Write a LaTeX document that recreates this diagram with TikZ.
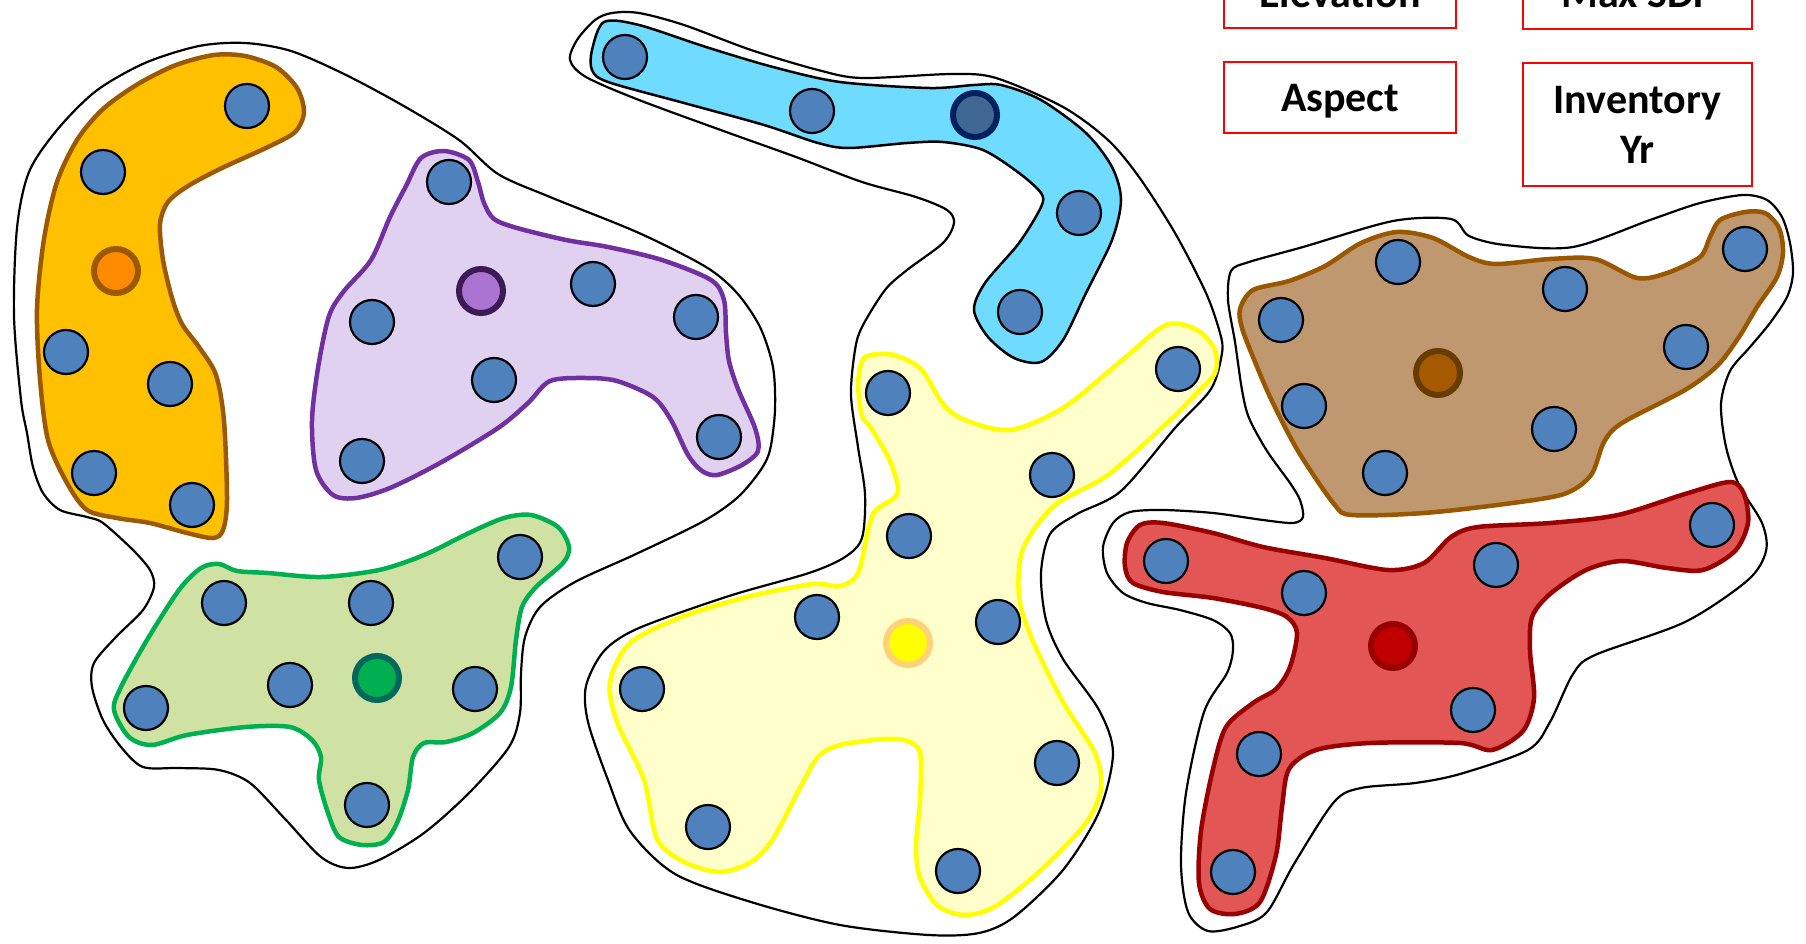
\documentclass[tikz,border=0pt]{standalone}
\usepackage{fontspec}
\setmainfont{Carlito}
\definecolor{dotblue}{RGB}{79,129,189}
\definecolor{orfill}{RGB}{255,192,0}
\definecolor{orline}{RGB}{156,90,0}
\definecolor{pufill}{RGB}{225,209,240}
\definecolor{puline}{RGB}{112,48,160}
\definecolor{grfill}{RGB}{207,226,163}
\definecolor{grline}{RGB}{0,176,80}
\definecolor{cyfill}{RGB}{111,219,255}
\definecolor{yefill}{RGB}{255,255,204}
\definecolor{yeline}{RGB}{255,255,0}
\definecolor{brfill}{RGB}{192,152,112}
\definecolor{brline}{RGB}{153,87,0}
\definecolor{refill}{RGB}{227,86,86}
\definecolor{reline}{RGB}{153,0,0}
\begin{document}
\begin{tikzpicture}[x=1pt,y=-1pt,
  dot/.style={circle,draw=black,line width=2.2pt,fill=dotblue,minimum size=44pt,inner sep=0pt},
  cdot/.style={circle,line width=6pt,minimum size=44pt,inner sep=0pt},
  outl/.style={draw=black,line width=2.2pt},
  blob/.style={line width=4.5pt},
  lbl/.style={draw=red,line width=1.8pt,font=\fontsize{42}{50}\selectfont\bfseries,align=center,inner sep=0pt},
  ]
\clip (0,0) rectangle (1806,944);
\fill[white] (0,0) rectangle (1806,944);

% ---- black group outlines ----
\draw[outl] plot[smooth cycle,tension=0.5] coordinates {(245,43) (291,51) (344,74) (402,105) (459,140) (498,174) (550,197) (639,233) (706,267) (737,293) (760,327) (773,367) (775,410) (770,450) (760,471) (737,498) (702,522) (636,554) (575,582) (540,607) (525,637) (521,673) (520,713) (509,747) (469,793) (424,833) (379,860) (348,868) (321,857) (286,820) (250,783) (219,770) (179,768) (143,767) (121,747) (103,720) (92,687) (94,663) (116,637) (143,610) (154,587) (150,570) (133,550) (103,523) (87,517) (60,510) (43,493) (33,467) (27,433) (21,400) (14,316) (17,228) (29,172) (57,130) (96,91) (145,63) (199,46)};

\draw[outl] plot[smooth cycle,tension=0.5] coordinates {(612,13) (639,13) (684,25) (751,50) (818,70) (862,78) (952,74) (996,78) (1063,107) (1108,140) (1139,177) (1175,233) (1206,293) (1220,333) (1222,353) (1211,389) (1175,428) (1121,491) (1077,514) (1050,534) (1041,573) (1046,620) (1063,659) (1099,710) (1113,753) (1099,812) (1063,870) (1014,917) (979,933) (929,935) (840,925) (751,902) (675,874) (630,831) (608,780) (588,722) (586,686) (604,651) (639,628) (729,596) (809,573) (845,557) (862,538) (865,494) (858,447) (851,395) (855,350) (862,327) (885,290) (907,270) (943,243) (954,223) (947,210) (916,197) (862,182) (796,157) (729,133) (639,100) (586,77) (570,60) (577,40) (595,20)};

\draw[outl] plot[smooth cycle,tension=0.5] coordinates {(1231,271) (1249,262) (1303,247) (1393,221) (1451,219) (1469,236) (1505,245) (1573,247) (1650,220) (1700,203) (1743,195) (1767,200) (1782,217) (1790,243) (1793,273) (1787,297) (1770,323) (1750,347) (1730,371) (1721,404) (1726,447) (1739,485) (1762,523) (1766,551) (1748,580) (1685,622) (1595,655) (1573,674) (1550,722) (1528,750) (1460,774) (1415,783) (1361,788) (1334,802) (1294,864) (1267,912) (1240,926) (1208,931) (1188,912) (1181,864) (1186,793) (1204,712) (1227,673) (1233,650) (1230,633) (1213,620) (1180,610) (1147,603) (1123,593) (1107,573) (1103,547) (1113,523) (1130,512) (1163,510) (1213,513) (1263,520) (1293,523) (1303,517) (1300,500) (1290,483) (1267,451) (1249,418) (1242,390) (1235,342) (1228,300)};

% ---- coloured clusters ----
\draw[blob,draw=orline,fill=orfill] plot[smooth cycle,tension=0.5] coordinates {(304,112) (297,88) (276,67) (245,56) (214,55) (176,65) (138,84) (103,109) (77,140) (57,182) (44,239) (37,309) (40,379) (48,440) (67,483) (87,510) (117,518) (150,523) (187,533) (213,538) (223,530) (227,500) (224,421) (216,375) (199,347) (182,324) (172,298) (163,260) (160,224) (168,202) (188,186) (222,168) (268,147) (295,132)};

\draw[blob,draw=puline,fill=pufill] plot[smooth cycle,tension=0.5] coordinates {(444,151) (469,160) (478,182) (484,203) (494,219) (517,228) (566,240) (608,247) (662,260) (711,280) (724,300) (726,333) (729,361) (738,389) (755,428) (758,451) (742,465) (717,475) (702,471) (688,455) (671,420) (653,397) (617,381) (586,378) (550,381) (528,403) (498,428) (440,463) (390,488) (356,498) (333,495) (316,470) (312,421) (318,368) (329,316) (344,291) (371,260) (390,217) (406,186) (421,158)};

\draw[blob,draw=grline,fill=grfill] plot[smooth cycle,tension=0.5] coordinates {(531,515) (558,527) (569,547) (563,563) (536,587) (522,607) (516,640) (511,687) (500,713) (473,733) (446,742) (424,743) (413,757) (408,790) (397,823) (384,842) (362,845) (339,837) (328,813) (319,780) (321,757) (312,740) (290,727) (246,727) (187,735) (152,745) (129,737) (114,710) (121,687) (147,640) (179,590) (201,568) (219,564) (237,571) (268,573) (321,577) (379,570) (424,555) (469,533) (504,518)};

\draw[line width=2.5pt,draw=black,fill=cyfill] plot[smooth cycle,tension=0.5] coordinates {(604,22) (639,25) (706,47) (773,67) (840,82) (929,88) (974,85) (1001,85) (1041,100) (1086,133) (1112,167) (1121,200) (1112,240) (1086,293) (1063,340) (1041,362) (1014,358) (988,337) (974,310) (985,283) (1019,243) (1041,207) (1041,193) (1019,173) (983,150) (943,142) (907,143) (849,148) (818,143) (764,125) (684,103) (608,82) (592,70) (592,50)};

\draw[blob,draw=yeline,fill=yefill] plot[smooth cycle,tension=0.5] coordinates {(862,361) (871,355) (894,355) (921,369) (943,404) (965,420) (1010,430) (1063,408) (1121,361) (1166,325) (1197,330) (1215,350) (1215,373) (1197,393) (1166,424) (1108,475) (1054,506) (1023,549) (1019,596) (1032,639) (1063,702) (1095,753) (1101,788) (1086,823) (1041,870) (996,906) (965,915) (938,906) (920,878) (916,847) (920,800) (920,753) (907,741) (885,739) (840,745) (818,757) (800,788) (773,839) (751,862) (720,872) (684,862) (657,839) (644,780) (617,722) (610,682) (630,643) (684,616) (751,596) (813,584) (840,586) (858,573) (869,526) (876,510) (894,498) (898,487) (889,459) (871,428) (862,416) (858,385)};

\draw[blob,draw=brline,fill=brfill] plot[smooth cycle,tension=0.5] coordinates {(1240,309) (1253,290) (1289,281) (1325,266) (1361,243) (1397,232) (1433,238) (1469,257) (1496,264) (1550,259) (1595,259) (1637,278) (1667,273) (1700,257) (1710,237) (1720,220) (1745,212) (1765,213) (1779,228) (1783,252) (1777,277) (1757,307) (1739,337) (1717,366) (1685,390) (1622,423) (1604,442) (1591,475) (1564,494) (1505,504) (1424,513) (1352,515) (1334,504) (1298,451) (1271,399) (1253,357) (1242,328)};

\draw[blob,draw=reline,fill=refill] plot[smooth cycle,tension=0.5] coordinates {(1140,525) (1163,523) (1213,533) (1263,547) (1325,558) (1388,570) (1424,563) (1451,537) (1478,527) (1550,523) (1618,515) (1685,494) (1730,482) (1744,494) (1748,523) (1735,551) (1703,570) (1667,568) (1622,561) (1586,570) (1550,594) (1532,617) (1530,651) (1534,698) (1523,731) (1492,750) (1460,743) (1370,743) (1316,750) (1289,769) (1282,807) (1276,855) (1260,902) (1235,914) (1210,909) (1199,883) (1201,831) (1213,769) (1226,727) (1253,703) (1276,689) (1290,667) (1297,633) (1287,617) (1263,608) (1213,598) (1163,592) (1133,583) (1125,567) (1127,543)};

% ---- points ----
\node[dot] (o1) at (247,106) {};
\node[dot] (o2) at (103,172) {};
\node[dot] (o3) at (66,352) {};
\node[dot] (o4) at (170,384) {};
\node[dot] (o5) at (94,473) {};
\node[dot] (o6) at (192,505) {};
\node[cdot,draw=orline,fill={rgb,255:red,255;green,140;blue,0}] (oc) at (116,271) {};

\node[dot] (p1) at (449,182) {};
\node[dot] (p2) at (372,322) {};
\node[dot] (p3) at (593,284) {};
\node[dot] (p4) at (696,317) {};
\node[dot] (p5) at (494,380) {};
\node[dot] (p6) at (362,461) {};
\node[dot] (p7) at (719,437) {};
\node[cdot,draw={rgb,255:red,60;green,26;blue,86},fill={rgb,255:red,170;green,116;blue,208}] (pc) at (481,291) {};

\node[dot] (c1) at (625,57) {};
\node[dot] (c2) at (812,111) {};
\node[dot] (c3) at (1079,213) {};
\node[dot] (c4) at (1020,312) {};
\node[cdot,draw={rgb,255:red,0;green,32;blue,96},fill={rgb,255:red,63;green,103;blue,146}] (cc) at (975,115) {};

\node[dot] (y1) at (888,393) {};
\node[dot] (y2) at (1178,369) {};
\node[dot] (y3) at (1052,475) {};
\node[dot] (y4) at (909,536) {};
\node[dot] (y5) at (817,617) {};
\node[dot] (y6) at (998,622) {};
\node[dot] (y7) at (642,689) {};
\node[dot] (y8) at (1057,763) {};
\node[dot] (y9) at (708,827) {};
\node[dot] (y10) at (958,871) {};
\node[cdot,draw={rgb,255:red,255;green,210;blue,122},fill=yeline] (yc) at (908,643) {};

\node[dot] (g1) at (520,557) {};
\node[dot] (g2) at (224,603) {};
\node[dot] (g3) at (371,603) {};
\node[dot] (g4) at (290,685) {};
\node[dot] (g5) at (475,689) {};
\node[dot] (g6) at (146,708) {};
\node[dot] (g7) at (367,805) {};
\node[cdot,draw={rgb,255:red,0;green,104;blue,92},fill={rgb,255:red,0;green,176;blue,80}] (gc) at (377,678) {};

\node[dot] (b1) at (1398,262) {};
\node[dot] (b2) at (1565,289) {};
\node[dot] (b3) at (1745,249) {};
\node[dot] (b4) at (1281,320) {};
\node[dot] (b5) at (1686,347) {};
\node[dot] (b6) at (1304,406) {};
\node[dot] (b7) at (1554,429) {};
\node[dot] (b8) at (1385,473) {};
\node[cdot,draw={rgb,255:red,102;green,60;blue,0},fill={rgb,255:red,166;green,90;blue,0}] (bc) at (1438,373) {};

\node[dot] (r1) at (1712,525) {};
\node[dot] (r2) at (1166,561) {};
\node[dot] (r3) at (1496,565) {};
\node[dot] (r4) at (1304,593) {};
\node[dot] (r5) at (1473,710) {};
\node[dot] (r6) at (1259,754) {};
\node[dot] (r7) at (1233,872) {};
\node[cdot,draw={rgb,255:red,150;green,0;blue,0},fill={rgb,255:red,192;green,0;blue,0}] (rc) at (1393,646) {};

% ---- labels ----
\node[lbl,minimum width=232pt,minimum height=71pt,text depth=0pt] (elev) at (1340,-7.5) {Elevation};
\node[lbl,minimum width=229pt,minimum height=71pt,text depth=0pt] (msdf) at (1637.5,-6.5) {Max SDF};
\node[lbl,minimum width=232pt,minimum height=71pt,text depth=0pt] (asp) at (1340,97.5) {Aspect};
\node[lbl,minimum width=229pt,minimum height=123pt] (inv) at (1637.5,124.5) {Inventory\\Yr};
\end{tikzpicture}
\end{document}
